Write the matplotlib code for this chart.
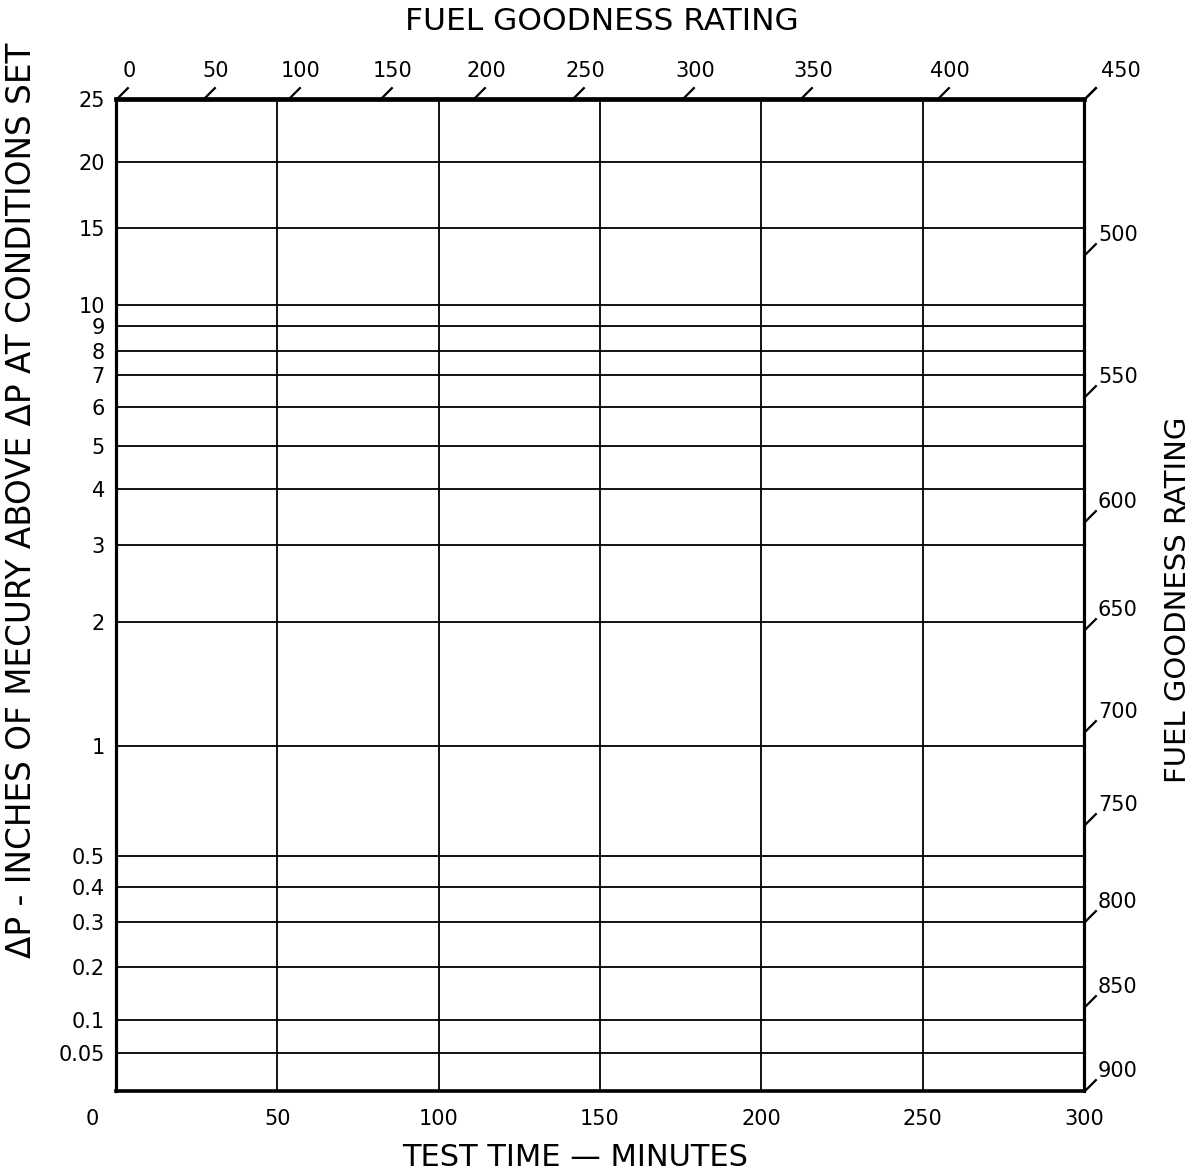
import numpy as np
import matplotlib
matplotlib.use("Agg")
import matplotlib.pyplot as plt
import matplotlib.transforms as mtransforms
from matplotlib.path import Path

# ---------------- data (scale calibration) ----------------
time_ticks = [0, 50, 100, 150, 200, 250, 300]
time_labels = ["0", "50", "100", "150", "200", "250", "300"]

dp_ticks = [0, 0.05, 0.1, 0.2, 0.3, 0.4, 0.5, 1, 2, 3, 4, 5, 6, 7, 8, 9, 10, 15, 20, 25]
dp_labels = ["", "0.05", "0.1", "0.2", "0.3", "0.4", "0.5", "1", "2", "3", "4", "5",
             "6", "7", "8", "9", "10", "15", "20", "25"]
# fraction of axis height (from bottom) of each ΔP grid line
dp_frac = [0, 0.0383, 0.0716, 0.125, 0.170, 0.206, 0.237, 0.348, 0.473, 0.550,
           0.607, 0.650, 0.690, 0.722, 0.746, 0.771, 0.792, 0.870, 0.936, 1.0]

top_rating_ticks = [0, 50, 100, 150, 200, 250, 300, 350, 400, 450]
top_rating_labels = ["0", "50", "100", "150", "200", "250", "300", "350", "400", "450"]
# fraction of axis width (from left) of each top rating tick
top_rating_frac = [0, 0.0899, 0.1777, 0.2727, 0.3688, 0.4711, 0.5847, 0.7066, 0.8481, 1.0]

right_rating_ticks = [450, 500, 550, 600, 650, 700, 750, 800, 850, 900]
# the 450 at the corner is labelled once, on the top scale
right_rating_labels = ["", "500", "550", "600", "650", "700", "750", "800", "850", "900"]
# fraction of axis height (from top) of each right rating tick
right_rating_frac = [0, 0.157, 0.300, 0.426, 0.535, 0.638, 0.732, 0.830, 0.915, 1.0]


def dp_fwd(v):
    return np.interp(v, dp_ticks, dp_frac)


def dp_inv(u):
    return np.interp(u, dp_frac, dp_ticks)


def top_fwd(r):
    return np.interp(r, top_rating_ticks, top_rating_frac)


def top_inv(u):
    return np.interp(u, top_rating_frac, top_rating_ticks)


def right_fwd(r):
    return np.interp(r, right_rating_ticks, right_rating_frac)


def right_inv(u):
    return np.interp(u, right_rating_frac, right_rating_ticks)


plt.rcParams["font.family"] = ["DejaVu Sans"]
W, H = 1194, 1173
fig = plt.figure(figsize=(W / 100, H / 100), dpi=100)
ax = fig.add_axes([116 / W, 82 / H, 968 / W, 992 / H])

TICK_FS = 15

ax.set_xlim(0, 300)
ax.set_yscale("function", functions=(dp_fwd, dp_inv))
ax.set_ylim(0, 25)
ax.set_xticks(time_ticks)
ax.set_xticklabels(time_labels)
ax.set_yticks(dp_ticks)
ax.set_yticklabels(dp_labels)
ax.minorticks_off()
ax.grid(True, color="black", lw=1.3)
ax.set_axisbelow(True)
ax.tick_params(axis="x", length=0, pad=13, labelsize=TICK_FS)
ax.tick_params(axis="y", length=0, pad=8, labelsize=TICK_FS)
for side, lw in [("top", 3.4), ("left", 2.3), ("bottom", 2.6), ("right", 2.3)]:
    ax.spines[side].set_linewidth(lw)
    ax.spines[side].set_color("black")
    ax.spines[side].set_zorder(5)

# shift origin label to the left, as in the original
lbl0 = ax.xaxis.get_major_ticks()[0].label1
lbl0.set_transform(lbl0.get_transform() +
                   mtransforms.ScaledTranslation(-24 / 100, 0, fig.dpi_scale_trans))

slant = Path([(0, 0), (1, 1)], [Path.MOVETO, Path.LINETO])

# ---------------- top rating axis ----------------
axt = ax.twiny()
axt.set_xscale("function", functions=(top_fwd, top_inv))
axt.set_xlim(0, 450)
axt.set_xticks(top_rating_ticks)
axt.set_xticklabels(top_rating_labels)
axt.minorticks_off()
axt.tick_params(axis="x", direction="in", length=17.5, width=1.6, pad=13,
                labelsize=TICK_FS, top=True, bottom=False, labeltop=True,
                labelbottom=False)
for s in axt.spines.values():
    s.set_visible(False)
ticks_t = axt.xaxis.get_major_ticks()
for i, t in enumerate(ticks_t):
    t.tick2line.set_marker(slant)
    dx = 37 if i == len(ticks_t) - 1 else 13
    t.label2.set_transform(t.label2.get_transform() +
                           mtransforms.ScaledTranslation(dx / 100, 0, fig.dpi_scale_trans))

# ---------------- right rating axis ----------------
axr = ax.twinx()
axr.set_yscale("function", functions=(right_fwd, right_inv))
axr.set_ylim(900, 450)
axr.set_yticks(right_rating_ticks)
axr.set_yticklabels(right_rating_labels)
axr.minorticks_off()
axr.tick_params(axis="y", direction="in", length=17.5, width=1.6, pad=10,
                labelsize=TICK_FS, right=True, left=False, labelright=True,
                labelleft=False)
for s in axr.spines.values():
    s.set_visible(False)
off_r = mtransforms.ScaledTranslation(0, 22 / 100, fig.dpi_scale_trans)
for t in axr.yaxis.get_major_ticks():
    t.tick2line.set_marker(slant)
    t.label2.set_transform(t.label2.get_transform() + off_r)

# ---------------- titles ----------------
fig.text(602 / W, 1 - 22 / H, "FUEL GOODNESS RATING", ha="center", va="center",
         fontsize=22.5)
fig.text(1178 / W, 1 - 600 / H, "FUEL GOODNESS RATING", ha="center", va="center",
         rotation=90, fontsize=21)
fig.text(22 / W, 1 - 500 / H, "ΔP - INCHES OF MECURY ABOVE ΔP AT CONDITIONS SET",
         ha="center", va="center", rotation=90, fontsize=23.5)
fig.text(575 / W, 1 - 1158 / H, "TEST TIME — MINUTES", ha="center", va="center",
         fontsize=22)

fig.savefig("out.png", dpi=100)
